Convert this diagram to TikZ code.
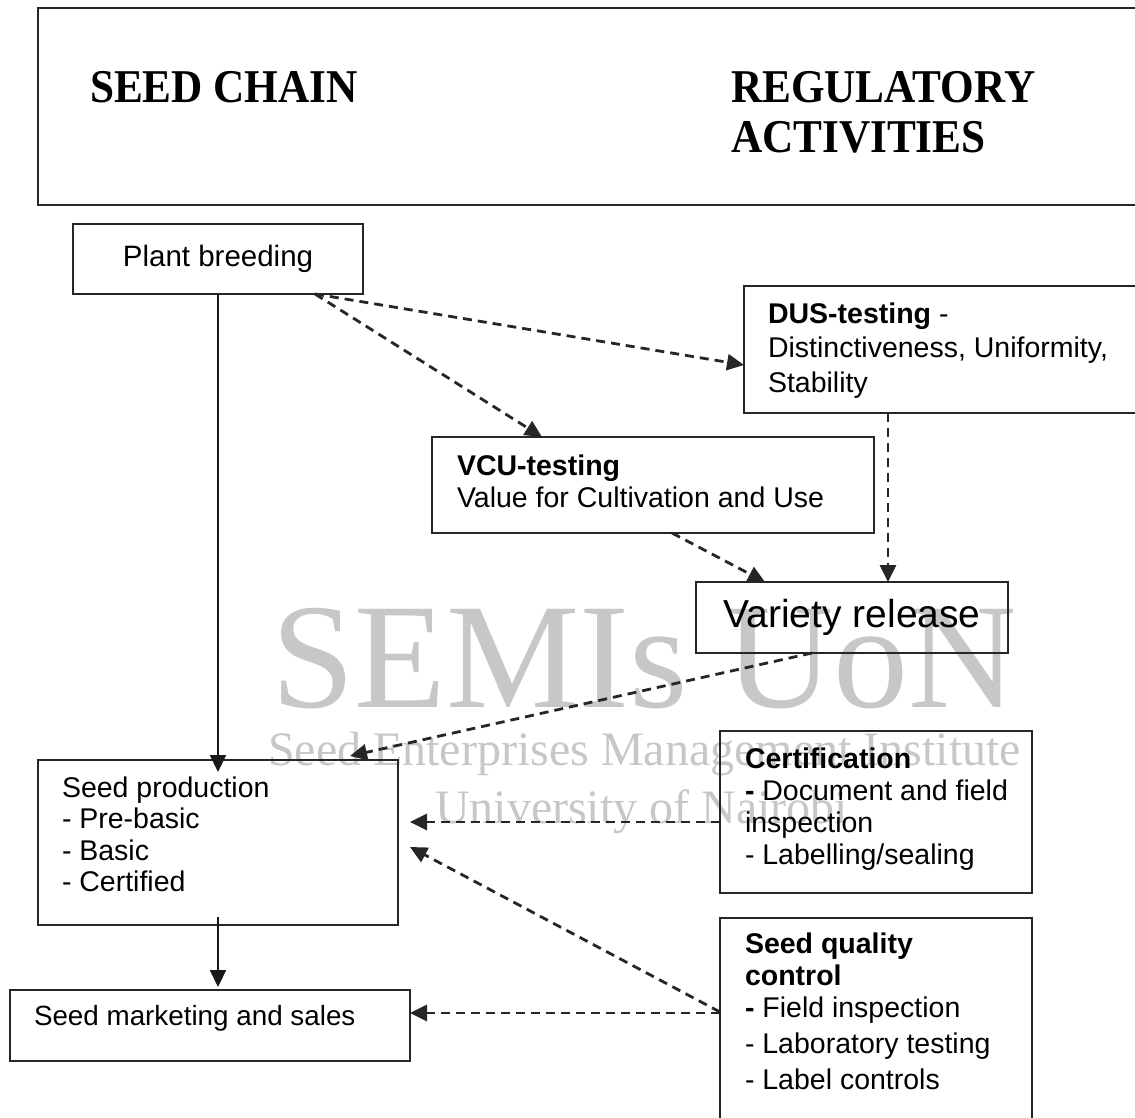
\documentclass[tikz,border=0pt]{standalone}
\usepackage{fontspec}
\setmainfont{Liberation Sans}
\newfontfamily\hdrfont[FakeStretch=0.92]{Liberation Serif}
\newfontfamily\wmfont{Liberation Serif}
\usetikzlibrary{calc,arrows.meta}
\begin{document}
\begin{tikzpicture}[x=1pt,y=-1pt,
  box/.style={draw=black!85,line width=2.2pt,inner sep=0pt,outer sep=0pt},
  txt/.style={inner sep=0pt,outer sep=0pt,align=left,anchor=north west,font=\fontsize{28.5}{32}\selectfont},
  hdr/.style={inner sep=0pt,outer sep=0pt,anchor=base west,font=\hdrfont\bfseries\fontsize{47}{50}\selectfont},
  solidarr/.style={line width=2.2pt,draw=black!90,-{Triangle[length=17pt,width=16pt]}},
  dasharr/.style={line width=2.8pt,draw=black!85,dash pattern=on 9pt off 6pt,-{Triangle[length=17pt,width=16pt]}},
  wm/.style={text=black!22,inner sep=0pt,outer sep=0pt,anchor=base west}]
\useasboundingbox (0,0) rectangle (1135,1118);
\clip (0,0) rectangle (1135,1118);

% watermark
\node[wm,font=\wmfont\fontsize{150}{150}\selectfont] (wm1) at (271,707) {SEMIs UoN};
\node[wm,font=\wmfont\fontsize{48}{48}\selectfont] (wm2) at (268,765) {Seed Enterprises Management Institute};
\node[wm,font=\wmfont\fontsize{48}{48}\selectfont] (wm3) at (435,823) {University of Nairobi};

% header
\node[box,minimum width=1112pt,minimum height=197pt] (head) at (594,106.5) {};
\node[hdr] (sc) at (90,103) {SEED CHAIN};
\node[hdr] (reg1) at (731,103) {REGULATORY};
\node[hdr] (reg2) at (731,153) {ACTIVITIES};

% boxes
\node[box,minimum width=290pt,minimum height=70pt,font=\fontsize{29.5}{32}\selectfont] (plant) at (218,259) {Plant breeding};
\node[box,minimum width=406pt,minimum height=127pt] (dus) at (947,349.5) {};
\node[box,minimum width=442pt,minimum height=96pt] (vcu) at (653,485) {};
\node[box,minimum width=312pt,minimum height=71pt,font=\fontsize{39}{40}\selectfont] (var) at (852,617.5) {Variety release};
\node[box,minimum width=360pt,minimum height=165pt] (prod) at (218,842.5) {};
\node[box,minimum width=400pt,minimum height=71pt] (mkt) at (210,1025.5) {};
\node[box,minimum width=312pt,minimum height=162pt] (cert) at (876,812) {};
\node[box,minimum width=312pt,minimum height=212pt] (sqc) at (876,1024) {};

% box texts
\node[txt,font=\fontsize{28.5}{34.5}\selectfont] (dusT) at (768,302.6) {\textbf{DUS-testing} -\\Distinctiveness, Uniformity,\\Stability};
\node[txt] (vcuT) at (457,454.6) {\textbf{VCU-testing}\\Value for Cultivation and Use};
\node[txt,font=\fontsize{28.5}{31.5}\selectfont] (prodT) at (62,776.6) {Seed production\\- Pre-basic\\- Basic\\- Certified};
\node[txt,anchor=base west,font=\fontsize{27.8}{32}\selectfont] (mktT) at (34,1025) {Seed marketing and sales};
\node[txt] (certT) at (745,747.6) {\textbf{Certification}\\\textbf{-} Document and field\\inspection\\- Labelling/sealing};
\node[txt] (sqcT) at (745,932.6) {\textbf{Seed quality}\\\textbf{control}\\\textbf{-} Field inspection\\[4pt]- Laboratory testing\\[4pt]- Label controls};

% solid arrows
\draw[solidarr] (plant.south) -- ($(prod.north)+(0,12)$);
\draw[solidarr] ($(prod.south)+(0,-8)$) -- ($(prod.south |- mkt.north)+(0,-3)$);

% dashed arrows
\coordinate (pbs) at ($(plant.south)+(97,0)$);
\draw[dasharr] (pbs) -- ($(dus.west)+(0,15.5)$);
\draw[dasharr] (pbs) -- ($(vcu.north)+(-111,0)$);
\draw[dasharr] ($(dus.south)+(-59,0)$) -- ($(dus.south |- var.north)+(-59,0)$);
\draw[dasharr] ($(vcu.south)+(19,0)$) -- ($(var.north)+(-87,0)$);
\draw[dasharr] ($(var.south)+(-40,0)$) -- ($(prod.north)+(132,-4)$);
\draw[dasharr] ($(cert.west)+(0,10)$) -- ($(prod.east |- cert.west)+(12,10)$);
\draw[dasharr] ($(sqc.west)+(0,-12)$) -- ($(prod.east)+(12,4.5)$);
\draw[dasharr] ($(sqc.west)+(0,-11)$) -- ($(mkt.east |- sqc.west)+(0,-11)$);
\end{tikzpicture}
\end{document}
